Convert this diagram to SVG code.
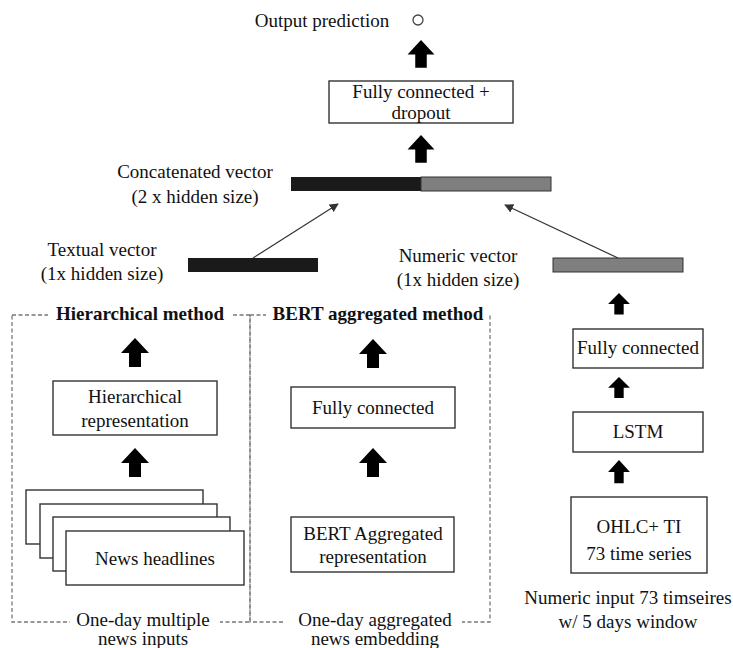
<svg xmlns="http://www.w3.org/2000/svg" width="733" height="648" viewBox="0 0 733 648">
  <defs>
    <style>
      text { font-family: 'Liberation Serif', serif; font-size: 19px; fill: #111; }
      .mid { text-anchor: middle; }
      .bold { font-weight: bold; }
      .box { fill: #fff; stroke: #333; stroke-width: 1.4; }
      .frame { fill: none; stroke: #777; stroke-width: 1.3; stroke-dasharray: 4 2.5; }
      .blank { fill: #fff; }
      .link { stroke: #333; stroke-width: 1.2; fill: none; marker-end: url(#tip); }
    </style>
    <!-- solid block arrow pointing up, 28 wide x 29 tall, apex at origin -->
    <path id="blk" d="M0,0 L14,15 L6,15 L6,29 L-6,29 L-6,15 L-14,15 Z" fill="#000"/>
    <marker id="tip" viewBox="0 0 10 10" refX="9" refY="5" markerWidth="9" markerHeight="9" orient="auto" markerUnits="userSpaceOnUse">
      <path d="M0,0 L10,5 L0,10 Z" fill="#333"/>
    </marker>
  </defs>

  <rect width="733" height="648" fill="#fff"/>

  <!-- output -->
  <g id="output">
    <text x="322" y="27" class="mid">Output prediction</text>
    <circle cx="418" cy="20" r="5" fill="#fff" stroke="#444" stroke-width="1.3"/>
  </g>

  <g id="fc-dropout">
    <rect class="box" x="329" y="81" width="184" height="42"/>
    <text x="421" y="98" class="mid">Fully connected +</text>
    <text x="421" y="119" class="mid">dropout</text>
  </g>

  <g id="concat">
    <rect x="291" y="177" width="130" height="14" fill="#1a1a1a"/>
    <rect x="421" y="177" width="130" height="14" fill="#7f7f7f" stroke="#333" stroke-width="1"/>
    <text x="195" y="178" class="mid">Concatenated vector</text>
    <text x="195" y="203" class="mid">(2 x hidden size)</text>
  </g>

  <g id="textual-vector">
    <rect x="188" y="258" width="130" height="14" fill="#1a1a1a"/>
    <text x="102" y="256" class="mid">Textual vector</text>
    <text x="102" y="280" class="mid">(1x hidden size)</text>
  </g>

  <g id="numeric-vector">
    <rect x="553" y="258" width="130" height="14" fill="#7f7f7f" stroke="#333" stroke-width="1"/>
    <text x="458" y="262" class="mid">Numeric vector</text>
    <text x="458" y="286" class="mid">(1x hidden size)</text>
  </g>

  <!-- hierarchical branch -->
  <g id="hierarchical">
    <rect class="frame" x="12" y="315" width="238" height="307"/>
    <rect class="blank" x="48" y="305" width="184" height="20"/>
    <text x="140" y="320" class="mid bold">Hierarchical method</text>
    <rect class="box" x="53" y="381" width="164" height="54"/>
    <text x="135" y="403" class="mid">Hierarchical</text>
    <text x="135" y="427" class="mid">representation</text>
    <rect class="box" x="26" y="490" width="177" height="54"/>
    <rect class="box" x="40" y="504" width="177" height="54"/>
    <rect class="box" x="53" y="517" width="177" height="54"/>
    <rect class="box" x="66" y="531" width="178" height="54"/>
    <text x="155" y="565" class="mid">News headlines</text>
    <rect class="blank" x="70" y="610" width="150" height="38"/>
    <text x="143" y="626" class="mid">One-day multiple</text>
    <text x="143" y="645" class="mid">news inputs</text>
  </g>

  <!-- BERT branch -->
  <g id="bert">
    <rect class="frame" x="250" y="315" width="240" height="307"/>
    <rect class="blank" x="266" y="305" width="222" height="20"/>
    <text x="378" y="320" class="mid bold">BERT aggregated method</text>
    <rect class="box" x="291" y="387" width="164" height="41"/>
    <text x="373" y="414" class="mid">Fully connected</text>
    <rect class="box" x="291" y="517" width="163" height="55"/>
    <text x="373" y="540" class="mid">BERT Aggregated</text>
    <text x="373" y="563" class="mid">representation</text>
    <rect class="blank" x="284" y="610" width="178" height="38"/>
    <text x="375" y="626" class="mid">One-day aggregated</text>
    <text x="375" y="645" class="mid">news embedding</text>
  </g>

  <!-- numeric branch -->
  <g id="numeric">
    <rect class="box" x="573" y="329" width="130" height="39"/>
    <text x="638" y="354" class="mid">Fully connected</text>
    <rect class="box" x="573" y="412" width="130" height="40"/>
    <text x="638" y="438" class="mid">LSTM</text>
    <rect class="box" x="571" y="497" width="136" height="76"/>
    <text x="639" y="533" class="mid">OHLC+ TI</text>
    <text x="639" y="560" class="mid">73 time series</text>
    <text x="628" y="604" class="mid">Numeric input 73 timseires</text>
    <text x="628" y="628" class="mid">w/ 5 days window</text>
  </g>

  <!-- connectors -->
  <g id="connectors">
    <use href="#blk" transform="translate(421,40) scale(0.96)"/>
    <use href="#blk" transform="translate(421,135) scale(0.96)"/>
    <use href="#blk" transform="translate(135,338)"/>
    <use href="#blk" transform="translate(135,448)"/>
    <use href="#blk" transform="translate(373,339)"/>
    <use href="#blk" transform="translate(373,448)"/>
    <use href="#blk" transform="translate(619,293) scale(0.78,0.74)"/>
    <use href="#blk" transform="translate(619,377) scale(0.78,0.72)"/>
    <use href="#blk" transform="translate(619,460) scale(0.78,0.8)"/>
    <line class="link" x1="253" y1="258" x2="338" y2="204"/>
    <line class="link" x1="618" y1="258" x2="505" y2="205"/>
  </g>
</svg>
